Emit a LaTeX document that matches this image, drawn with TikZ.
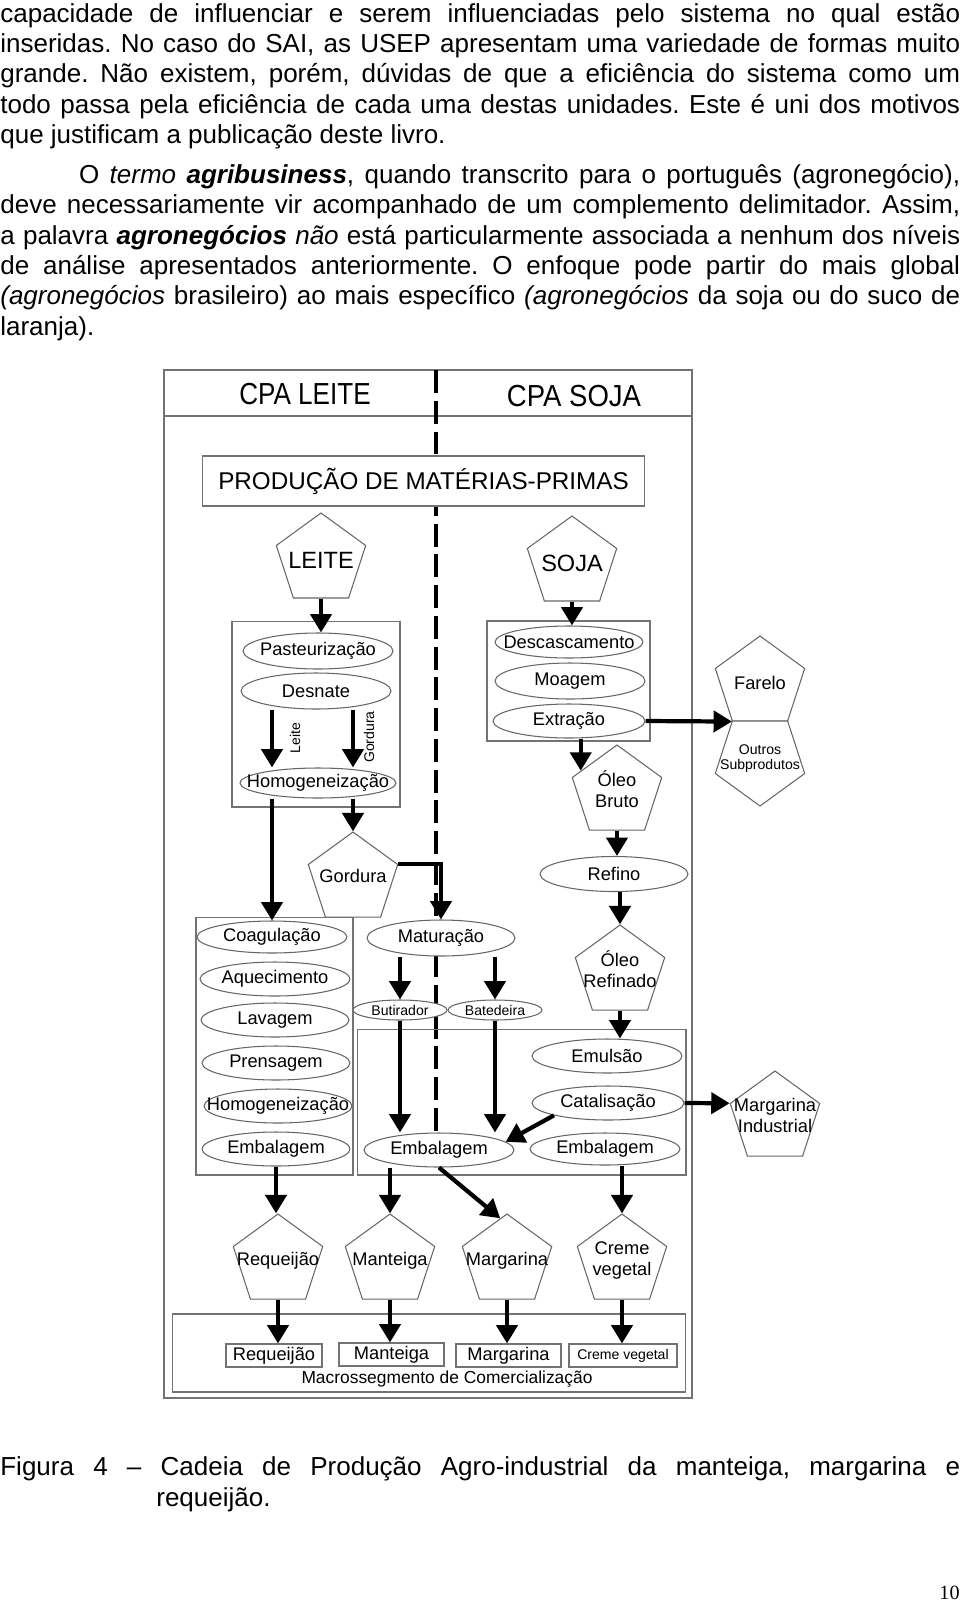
\documentclass[tikz,border=0pt]{standalone}
\usepackage{fontspec}
\usepackage{graphicx}
\setmainfont{Liberation Sans}
\newfontfamily\numfont{Liberation Serif}
\usetikzlibrary{shapes.geometric,arrows.meta,calc}
\frenchspacing

\newcommand\corpofnt{\fontsize{14.8}{17.8}\selectfont}
\newcommand\cabfnt{\fontsize{16.5}{19}\selectfont}
\newcommand\grandefnt{\fontsize{13.4}{15}\selectfont}
\newcommand\mediofnt{\fontsize{10.4}{11.8}\selectfont}
\newcommand\miudofnt{\fontsize{8}{8.8}\selectfont}
% texto que nao alarga a forma
\newcommand\rotulo[1]{\makebox[0pt]{#1}}
\newcommand\rotulos[1]{\makebox[0pt]{\begin{tabular}{@{}c@{}}#1\end{tabular}}}

\tikzset{
  moldura/.style={draw=black!55,line width=0.6pt},
  bloco/.style={rectangle,draw=black!55,line width=0.6pt,inner sep=0pt},
  etapa/.style={ellipse,draw=black!60,line width=0.6pt,fill=white,inner sep=0pt,
    minimum width=3cm,minimum height=0.68cm,font=\mediofnt},
  etapinha/.style={etapa,minimum width=1.88cm,minimum height=0.4cm,font=\miudofnt},
  produto/.style={regular polygon,regular polygon sides=5,draw=black!60,line width=0.6pt,
    fill=white,inner sep=0pt,minimum size=1.88cm,font=\mediofnt},
  seta/.style={-{Triangle[width=12pt,length=10.5pt]},line width=2.4pt},
  divisa/.style={line width=2.2pt,dash pattern=on 13pt off 4.5pt},
  corpo/.style={inner sep=0pt,anchor=base west,font=\corpofnt}
}

\begin{document}
\begin{tikzpicture}[x=0.02cm,y=-0.02cm]
\useasboundingbox (0,0) rectangle (960,1603);

% texto da pagina
\node[corpo] (t1) at (0,22) {\makebox[19.2cm][s]{capacidade de influenciar e serem influenciadas pelo sistema no qual estão}};
\node[corpo] (t2) at (0,52.4) {\makebox[19.2cm][s]{inseridas. No caso do SAI, as USEP apresentam uma variedade de formas muito}};
\node[corpo] (t3) at (0,82.8) {\makebox[19.2cm][s]{grande. Não existem, porém, dúvidas de que a eficiência do sistema como um}};
\node[corpo] (t4) at (0,113.2) {\makebox[19.2cm][s]{todo passa pela eficiência de cada uma destas unidades. Este é uni dos motivos}};
\node[corpo] (t5) at (0,143.6) {que justificam a publicação deste livro.};
\node[corpo] (t6) at (78.7,183.5) {\makebox[17.626cm][s]{O \textit{termo} \textbf{\textit{agribusiness}}, quando transcrito para o português (agronegócio),}};
\node[corpo] (t7) at (0,213.8) {\makebox[19.2cm][s]{deve necessariamente vir acompanhado de um complemento delimitador. Assim,}};
\node[corpo] (t8) at (0,244.1) {\makebox[19.2cm][s]{a palavra \textbf{\textit{agronegócios}} \textit{não} está particularmente associada a nenhum dos níveis}};
\node[corpo] (t9) at (0,274.4) {\makebox[19.2cm][s]{de análise apresentados anteriormente. O enfoque pode partir do mais global}};
\node[corpo] (t10) at (0,304.7) {\makebox[19.2cm][s]{\textit{(agronegócios} brasileiro) ao mais específico \textit{(agronegócios} da soja ou do suco de}};
\node[corpo] (t11) at (0,335) {laranja).};

% quadro
\draw[moldura] (164,370) rectangle (692,1398);
\draw[moldura] (164,416) -- (692,416);
\coordinate (dtopo) at (436,370);
\coordinate (dbase) at (436,1131);
\draw[divisa] (dtopo) -- (dbase);
\node[font=\cabfnt] (cleite) at (305,394) {\scalebox{0.9}[1.05]{CPA LEITE}};
\node[font=\cabfnt] (csoja) at (574,396) {\scalebox{0.95}[1.05]{CPA SOJA}};
\node[bloco,fill=white,minimum width=8.86cm,minimum height=1cm,font=\fontsize{13.8}{15}\selectfont] (prod) at (423.5,481) {PRODUÇÃO DE MATÉRIAS-PRIMAS};
\node[produto,font=\grandefnt] (leite) at (321,560) {\rotulo{LEITE}};
\node[produto,font=\grandefnt] (soja) at (572,563) {\rotulo{SOJA}};

% grupos
\node[bloco,minimum width=3.36cm,minimum height=3.72cm] (grleite) at (316,714) {};
\node[bloco,minimum width=3.26cm,minimum height=2.4cm] (grsoja) at (568.5,681) {};
\node[bloco,minimum width=3.14cm,minimum height=5.16cm] (grqueijo) at (274.5,1046) {};
\node[bloco,minimum width=6.58cm,minimum height=2.92cm] (grgordura) at (521.5,1102) {};
\node[bloco,minimum width=10.28cm,minimum height=1.56cm] (grcomerc) at (429,1353) {};
\node[font=\fontsize{9.9}{11}\selectfont] (macro) at (447,1379) {Macrossegmento de Comercialização};

% leite
\node[etapa,minimum height=0.72cm] (pasteur) at (318,651) {\rotulo{Pasteurização}};
\node[etapa,minimum height=0.72cm] (desnate) at (316,691) {\rotulo{Desnate}};
\node[etapa,minimum width=3.12cm,minimum height=0.6cm] (homog) at (318,783) {\rotulo{Homogeneização}};
\node[font=\miudofnt,rotate=90] (lleite) at (295,738) {Leite};
\node[font=\miudofnt,rotate=90] (lgord) at (369,737) {Gordura};
\node[produto] (gordura) at (353,879) {\rotulo{\raisebox{3pt}{Gordura}}};

% soja
\node[etapa,minimum width=2.96cm,minimum height=0.64cm] (descasc) at (569,642) {\rotulo{Descascamento}};
\node[etapa,minimum height=0.72cm] (moagem) at (570,681) {\rotulo{Moagem}};
\node[etapa,minimum width=3.04cm] (extracao) at (569,721) {\rotulo{Extração}};
\node[produto] (farelo) at (760,683) {\rotulo{Farelo}};
\node[produto,shape border rotate=180,font=\miudofnt] (outros) at (760,759) {\rotulos{Outros\\Subprodutos}};
\node[produto] (oleob) at (617,792) {\rotulos{Óleo\\Bruto}};
\node[etapa,minimum width=2.96cm,minimum height=0.7cm] (refino) at (614,874) {\rotulo{Refino}};
\node[produto] (oleor) at (620,972) {\rotulos{Óleo\\Refinado}};

% queijo
\node[etapa,minimum height=0.64cm] (coag) at (272,937) {\rotulo{Coagulação}};
\node[etapa] (aquec) at (275,979) {\rotulo{Aquecimento}};
\node[etapa,minimum width=2.96cm] (lavagem) at (275,1020) {\rotulo{Lavagem}};
\node[etapa,minimum width=2.96cm] (prensa) at (276,1063) {\rotulo{Prensagem}};
\node[etapa,minimum width=2.96cm] (homogq) at (278,1106) {\rotulo{Homogeneização}};
\node[etapa,minimum width=2.96cm] (embq) at (276,1149) {\rotulo{Embalagem}};

% manteiga e margarina
\node[etapa,minimum width=2.96cm,minimum height=0.72cm] (matur) at (441,938) {\rotulo{Maturação}};
\node[etapinha] (butir) at (400,1010) {\rotulo{Butirador}};
\node[etapinha] (bated) at (495,1010) {\rotulo{Batedeira}};
\node[etapa] (emulsao) at (607,1056) {\rotulo{Emulsão}};
\node[etapa,minimum width=3.04cm] (catal) at (608,1103) {\rotulo{Catalisação}};
\node[etapa,minimum height=0.64cm] (embs) at (605,1149) {\rotulo{Embalagem}};
\node[etapa] (embm) at (439,1150) {\rotulo{Embalagem}};
\node[produto] (margind) at (775,1118) {\rotulos{Margarina\\Industrial}};

% produtos finais
\node[produto] (requeijao) at (278,1261) {\rotulo{\raisebox{3pt}{Requeijão}}};
\node[produto] (manteiga) at (390,1261) {\rotulo{\raisebox{2pt}{Manteiga}}};
\node[produto] (margarina) at (507,1261) {\rotulo{\raisebox{2pt}{Margarina}}};
\node[produto] (creme) at (622,1261) {\rotulos{Creme\\vegetal}};
\node[bloco,minimum width=1.92cm,minimum height=0.46cm,font=\mediofnt] (vreq) at (274,1355.5) {Requeijão};
\node[bloco,minimum width=2.1cm,minimum height=0.46cm,font=\mediofnt] (vmant) at (391.5,1354.5) {Manteiga};
\node[bloco,minimum width=2.1cm,minimum height=0.46cm,font=\mediofnt] (vmarg) at (508.5,1355.5) {Margarina};
\node[bloco,minimum width=2.16cm,minimum height=0.46cm,font=\miudofnt] (vcreme) at (623,1355.5) {Creme vegetal};

% setas
\draw[seta] (leite.south) -- (leite.south |- pasteur.north);
\draw[seta] (soja.south) -- (soja.south |- descasc.north);
\draw[seta] (desnate.south -| coag) -- (homog.north -| coag);
\draw[seta] (desnate.south -| gordura) -- (homog.north -| gordura);
\draw[seta] (homog.south -| coag) -- (coag.north);
\draw[seta] (homog.south -| gordura) -- (gordura.north);
\draw[seta] (gordura.corner 5) -| (matur.north);
\draw[seta] (matur.south -| butir) -- (butir.north);
\draw[seta] (matur.south -| bated) -- (bated.north);
\draw[seta] (butir.south) -- (butir.south |- embm.north);
\draw[seta] (bated.south) -- (bated.south |- embm.north);
\coordinate (obin) at ($(oleob.corner 1)!0.8!(oleob.corner 2)$);
\draw[seta] (extracao.south -| obin) -- (obin);
\draw[seta] (extracao.east) -- (farelo.corner 3);
\draw[seta] (oleob.south) -- (oleob.south |- refino.north);
\draw[seta] (refino.south -| oleor) -- (oleor.north);
\draw[seta] (oleor.south) -- (oleor.south |- emulsao.north);
\draw[seta] (catal.east) -- (margind.corner 2);
\draw[seta] (catal.south west) -- (embm.7);
\draw[seta] (embq.south) -- (embq.south |- requeijao.north);
\draw[seta] (embm.south -| manteiga) -- (manteiga.north);
\coordinate (mgin) at ($(margarina.corner 1)!0.15!(margarina.corner 2)$);
\draw[seta] (embm.south) -- (mgin);
\draw[seta] (embs.south -| creme) -- (creme.north);
\draw[seta] (requeijao.south) -- (requeijao.south |- vreq.north);
\draw[seta] (manteiga.south) -- (manteiga.south |- vmant.north);
\draw[seta] (margarina.south) -- (margarina.south |- vmarg.north);
\draw[seta] (creme.south) -- (creme.south |- vcreme.north);

% legenda
\node[corpo] (fig1) at (0,1475) {\makebox[19.2cm][s]{Figura 4 – Cadeia de Produção Agro-industrial da manteiga, margarina e}};
\node[corpo] (fig2) at (156,1506) {requeijão.};
\node[anchor=base east,inner sep=0pt,font={\numfont\fontsize{11.5}{13}\selectfont}] (pagina) at (960,1599) {10};
\end{tikzpicture}
\end{document}
